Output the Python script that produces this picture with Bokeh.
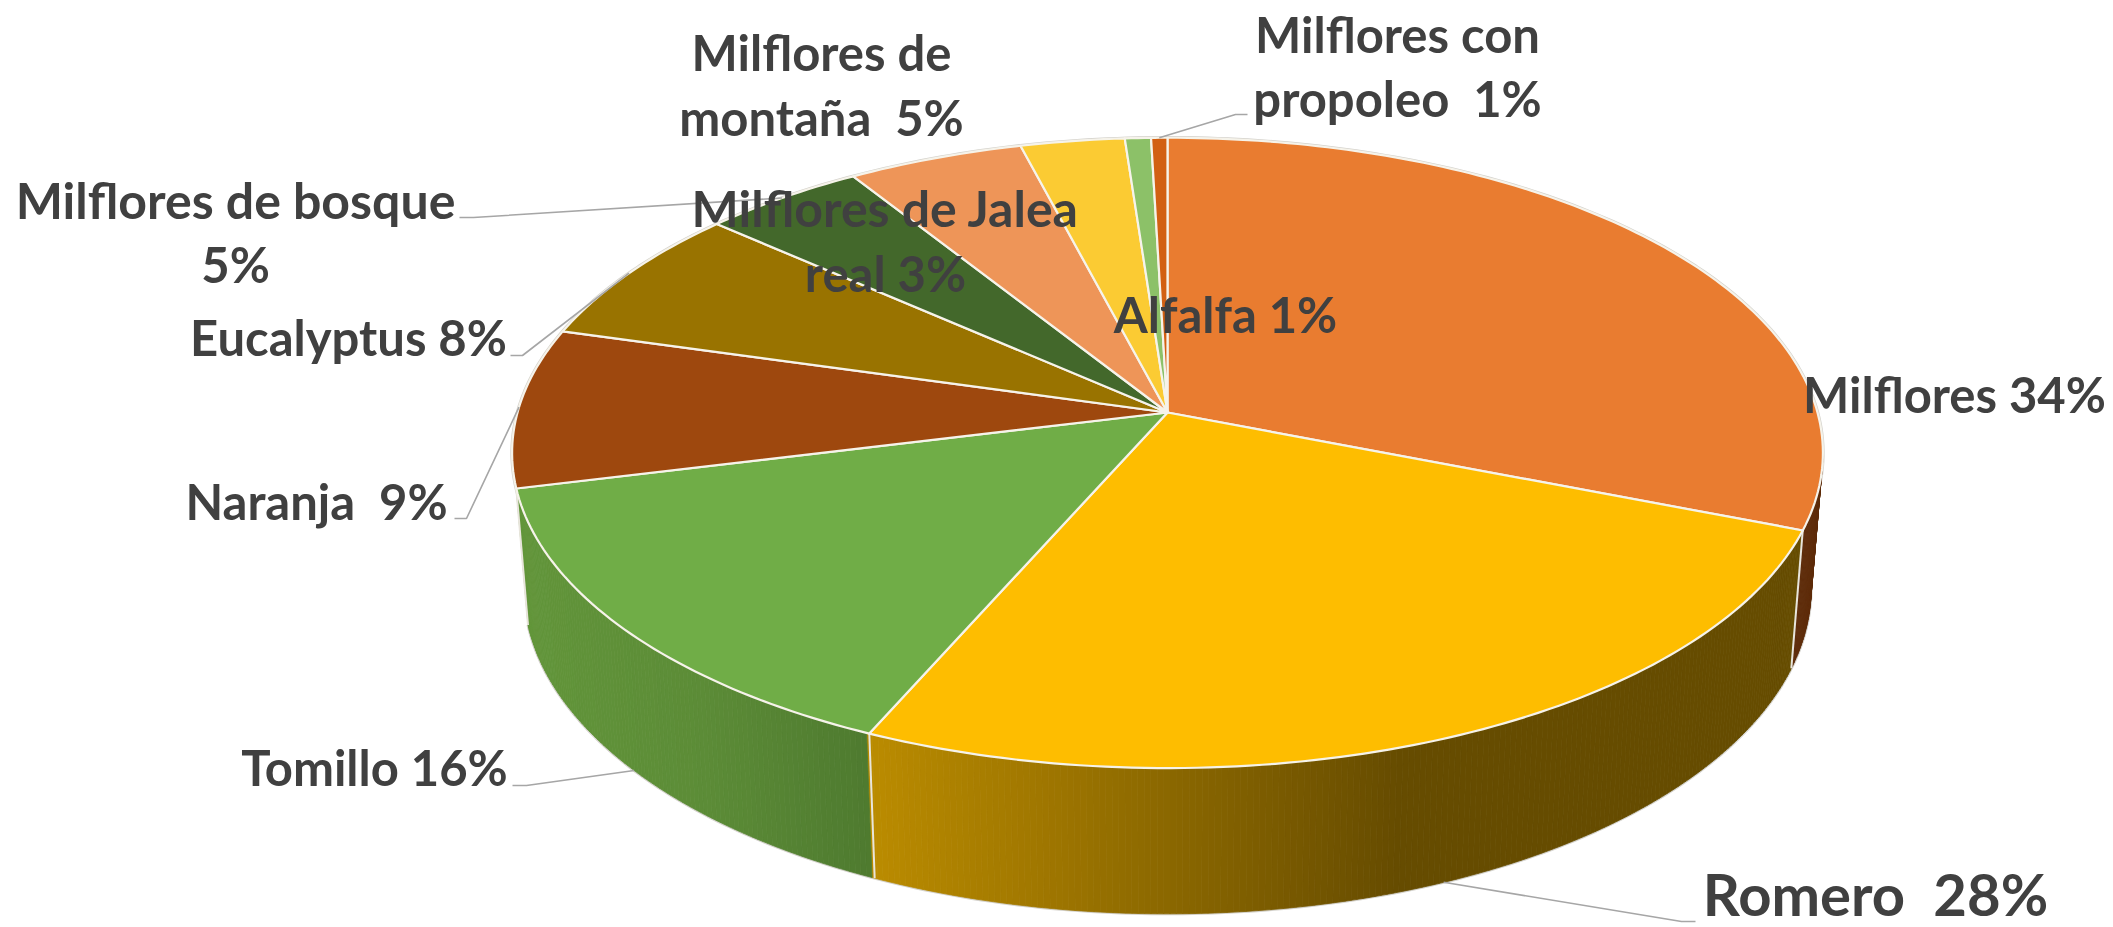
import numpy as np
from bokeh.plotting import figure
from bokeh.models import Range1d
from bokeh.core.properties import value
from bokeh.embed import file_html
from bokeh.resources import INLINE

# ---- data (the pie is drawn from these; clockwise from the top)
categories = ["Milflores", "Romero", "Tomillo", "Naranja", "Eucalyptus",
              "Milflores de bosque", "Milflores de montaña", "Milflores de Jalea real",
              "Alfalfa", "Milflores con propoleo"]
values = [34, 28.3, 16, 9, 7.8, 5.0, 5.4, 3.2, 0.8, 0.5]
colors = ["#E97C30", "#FEBD00", "#70AD47", "#9E480E", "#997300",
          "#43682B", "#EE9558", "#FBCB33", "#8CC168", "#D26012"]

# label lines: text, centre x, baseline y, font size
label_lines = ["Milflores con", "propoleo \u00a01%", "Milflores de", "montaña \u00a05%",
               "Milflores de Jalea", "real 3%", "Alfalfa 1%", "Milflores de bosque", "5%",
               "Eucalyptus 8%", "Naranja \u00a09%", "Tomillo 16%", "Milflores 34%", "Romero \u00a028%"]
label_x = [1397, 1397, 821, 821, 885, 885, 1225, 235, 235, 348, 316, 374, 1954, 1875]
label_y = [51, 115, 69, 134, 225, 290, 331, 217, 281, 354, 518, 784, 411, 914]
label_size = [49, 49, 49, 49, 50, 49, 49, 50, 49, 49, 49, 49, 49, 58]

# leader lines: index of slice, elbow points (from label side), whether it ends on lower rim
leaders = [(9, [(1247, 114), (1235, 114)], False),
           (5, [(459, 217), (473, 217)], False),
           (4, [(510, 355), (522, 355)], False),
           (3, [(454, 518), (466, 518)], False),
           (2, [(512, 785), (526, 785)], True),
           (1, [(1695, 921), (1681, 921)], True)]

# ---- perspective geometry of the disc (page pixels)
CX, CY, RX, RY, K = 1167.0, 412.0, 650.0, 310.0, 0.1282
BOT_Y, SX, SY = 546.0, 0.982, 1.033
BASELINE_SHIFT = 0.36   # the text glyph sits this many em below the requested baseline


def top(t):
    u, v = np.sin(t), np.cos(t)
    w = 1 + K * v
    return CX + RX * u / w, CY - RY * v / w


def bottom(t):
    x, y = top(t)
    return CX + SX * (x - CX), BOT_Y + SY * (y - CY)


def lerp_color(x, stops):
    xs = [s[0] for s in stops]
    rgb = [np.interp(x, xs, [s[1][i] for s in stops]) for i in range(3)]
    return "#%02x%02x%02x" % tuple(int(round(c)) for c in rgb)


WALL_STOPS = {
    1: [(871, (186, 139, 0)), (1130, (145, 108, 0)), (1400, (102, 76, 0)), (1800, (102, 76, 0))],
    2: [(514, (98, 149, 58)), (700, (92, 140, 55)), (871, (78, 122, 47))],
    0: [(1780, (94, 44, 10)), (1830, (94, 44, 10))],
}

vals = np.array(values, dtype=float)
edges = np.concatenate([[0], np.cumsum(vals)]) / vals.sum() * 2 * np.pi
mids = (edges[:-1] + edges[1:]) / 2

p = figure(width=2113, height=927, x_range=Range1d(0, 2113), y_range=Range1d(927, 0),
           output_backend="svg", toolbar_location=None, min_border=0)
p.axis.visible = False
p.grid.visible = False
p.outline_line_color = None
p.background_fill_color = "white"
p.border_fill_color = "white"

# walls, as thin vertical strips so the shading runs across them
front_a, front_b = np.radians(97.4), edges[3]
steps = np.linspace(front_a, front_b, 321)
qx, qy, qc = [], [], []
for a, b in zip(steps[:-1], steps[1:]):
    m = (a + b) / 2
    i = int(np.searchsorted(edges, m) - 1)
    xa, ya = top(a); xb, yb = top(b)
    xc, yc = bottom(b); xd, yd = bottom(a)
    qx.append([xa, xb, xc, xd]); qy.append([ya, yb, yc, yd])
    qc.append(lerp_color((xa + xb) / 2, WALL_STOPS[i]))

# pale outer edge
rim = np.linspace(0, 2 * np.pi, 361)
rx, ry = top(rim)
p.line(list(rx), list(ry), line_color="#d4d2cc", line_width=3.5)
arc = np.linspace(front_a, front_b, 200)
bx, by = bottom(arc)
p.line(list(bx), list(by), line_color="#d4d2cc", line_width=3)
p.patches(qx, qy, fill_color=qc, line_color=qc, line_width=0.8)

# wall separators
for e in edges:
    if front_a < e <= front_b:
        x0, y0 = top(e); x1, y1 = bottom(e)
        p.line([x0, x1], [y0, y1], line_color="#e8e5dc", line_width=2)

# top face
sx, sy = [], []
for a, b in zip(edges[:-1], edges[1:]):
    n = max(4, int(np.degrees(b - a)))
    ts = np.linspace(a, b, n + 1)
    x, y = top(ts)
    sx.append([CX] + list(x)); sy.append([CY] + list(y))
p.patches(sx, sy, fill_color=colors, line_color="#f6f3ea", line_width=2.2, line_join="round")

# leader lines
for i, pts, low in leaders:
    ex, ey = bottom(mids[i]) if low else top(mids[i])
    p.line([q[0] for q in pts] + [ex], [q[1] for q in pts] + [ey],
           line_color="#a6a6a6", line_width=1.6)

# labels
p.text(x=label_x, y=[y - BASELINE_SHIFT * s for y, s in zip(label_y, label_size)], text=label_lines,
       text_font=value("Lato"), text_font_style="bold", text_color="#404040",
       text_font_size=[f"{s}px" for s in label_size],
       text_align="center", text_baseline="alphabetic")

open("out.html", "w").write(file_html(p, INLINE))
